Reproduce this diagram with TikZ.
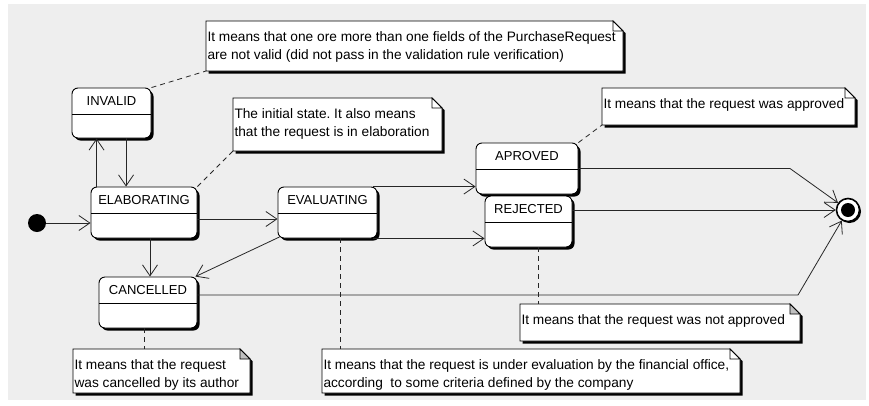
\documentclass[tikz,border=0pt]{standalone}
\usepackage{fontspec}
\setmainfont{Liberation Sans}
\frenchspacing
\usetikzlibrary{arrows.meta,shadows,calc,fit}
\definecolor{bgc}{HTML}{EEEEEE}
\definecolor{foldgray}{HTML}{C0C0C0}
\tikzset{
  txt/.style={font=\fontsize{13}{18}\selectfont, inner sep=0pt, outer sep=0pt},
  notetxt/.style={font=\fontsize{13.7}{18}\selectfont, inner sep=0pt, outer sep=0pt},
  statebox/.style={draw=black, line width=0.9pt, fill=white, rounded corners=6pt, inner sep=0pt,
    drop shadow={shadow xshift=2.5pt, shadow yshift=-2.5pt, fill=black, opacity=1},
    path picture={\draw[line width=0.8pt] ([yshift=-26pt]path picture bounding box.north west) -- ([yshift=-26pt]path picture bounding box.north east);}},
  trans/.style={draw=black!85, line width=0.8pt, -{Straight Barb[length=11pt,width=15pt,line width=0.8pt]}},
  notelink/.style={draw=black!85, line width=0.8pt, dash pattern=on 5pt off 4pt},
  noteline/.style={draw=black, line width=0.8pt},
}
\newcommand\umlstate[6]{%
  \node[statebox, minimum width=#4pt, minimum height=#5pt] (#1) at (#2,#3) {};
  \node[txt, anchor=base] (#1-t) at ($(#1.north)+(0,18)$) {#6};}
\newcommand\umlnote[7]{%
  \node[fit={(#2,#3) (#4,#5)}, inner sep=0pt, outer sep=0pt] (#1) {};
  \fill[black] ($(#1.north west)+(2.5,2.5)$) -- ($(#1.north east)+(-8,2.5)$) -- ($(#1.north east)+(2.5,12)$) -- ($(#1.south east)+(2.5,2.5)$) -- ($(#1.south west)+(2.5,2.5)$) -- cycle;
  \draw[noteline, fill=white] (#1.north west) -- ($(#1.north east)+(-10,0)$) -- ($(#1.north east)+(0,10)$) -- (#1.south east) -- (#1.south west) -- cycle;
  \draw[noteline, fill=#6] ($(#1.north east)+(-10,0)$) -- ($(#1.north east)+(-10,10)$) -- ($(#1.north east)+(0,10)$) -- cycle;
  \node[notetxt, anchor=north west, align=left] (#1-t) at ($(#1.north west)+(1.5,9)$) {\rule{0pt}{11pt}#7};}
\begin{document}
\begin{tikzpicture}[x=1pt, y=-1pt]
\useasboundingbox (0,0) rectangle (869,405);
\fill[white] (0,0) rectangle (869,405);
\fill[bgc] (8,4) rectangle (866,400);

% notes
\umlnote{topn}{206}{21}{623}{71}{white}{It means that one ore more than one fields of the PurchaseRequest\\are not valid (did not pass in the validation rule verification)}
\umlnote{elabn}{233}{98}{442}{151}{white}{The initial state. It also means\\that the request is in elaboration}
\umlnote{aprn}{602}{88}{855}{125}{white}{It means that the request was approved}
\umlnote{rejn}{520}{304}{800}{341}{foldgray}{It means that the request was not approved}
\umlnote{cancn}{73}{349}{250}{393}{foldgray}{It means that the request\\was cancelled by its author}
\umlnote{evaln}{322}{349}{740}{393}{white}{It means that the request is under evaluation by the financial office,\\according\ \ to some criteria defined by the company}

% states
\umlstate{inv}{111.5}{113}{79}{50}{INVALID}
\umlstate{elab}{144}{212.5}{106}{51}{ELABORATING}
\umlstate{eval}{327.5}{212.5}{99}{51}{EVALUATING}
\umlstate{apr}{527}{168.5}{102}{51}{APROVED}
\umlstate{rej}{528.5}{221.5}{87}{51}{REJECTED}
\umlstate{canc}{148}{302.5}{98}{51}{CANCELLED}

% pseudo states
\node[circle, fill=black, minimum size=18pt, inner sep=0pt] (init) at (37,223) {};
\node[circle, draw=black, line width=1.6pt, fill=white, minimum size=23pt, inner sep=0pt,
  drop shadow={shadow xshift=1.5pt, shadow yshift=-1.5pt, fill=black, opacity=1}] (fin) at (848,210) {};
\fill[black] (fin.center) circle (7pt);

% note links
\draw[notelink] (inv.north east) -- (topn.south west);
\draw[notelink] (elab.north east) -- (elabn.south west);
\draw[notelink] (apr.north east) -- (aprn.south west);
\coordinate (rd) at ([xshift=9.5pt]rej.south);
\draw[notelink] (rd) -- (rd |- rejn.north);
\coordinate (ed) at ([xshift=12.5pt]eval.south);
\draw[notelink] (ed) -- (ed |- evaln.north);
\coordinate (cd) at ([xshift=-4pt]canc.south);
\draw[notelink] (cd) -- (cd |- cancn.north);

% transitions
\draw[trans] (init.east) -- (init.east -| elab.west);
\draw[trans] ([xshift=6pt]elab.north west) -- ([xshift=25pt]inv.south west);
\draw[trans] ([xshift=54.5pt]inv.south west) -- ([xshift=35.5pt]elab.north west);
\draw[trans] ([yshift=-6.5pt]elab.east) -- ([yshift=-6.5pt]eval.west);
\coordinate (ec) at ([xshift=6pt]elab.south);
\draw[trans] (ec) -- (ec |- canc.north);
\draw[trans] ([xshift=2pt,yshift=1.5pt]eval.south west) -- ([xshift=-2pt]canc.north east);
\draw[trans] ([xshift=-4pt]eval.north east) -- (eval.north east -| apr.west);
\draw[trans] ([xshift=-4pt]eval.south east) -- (eval.south east -| rej.west);
\coordinate (b1) at (790,168.5);
\draw[trans] (apr.east) -- (b1) -- (fin);
\draw[trans] (fin.west -| rej.east) -- (fin.west);
\coordinate (b2) at (798,295);
\draw[trans] ([yshift=7.5pt]canc.east) -- (b2) -- (fin);
\end{tikzpicture}
\end{document}
